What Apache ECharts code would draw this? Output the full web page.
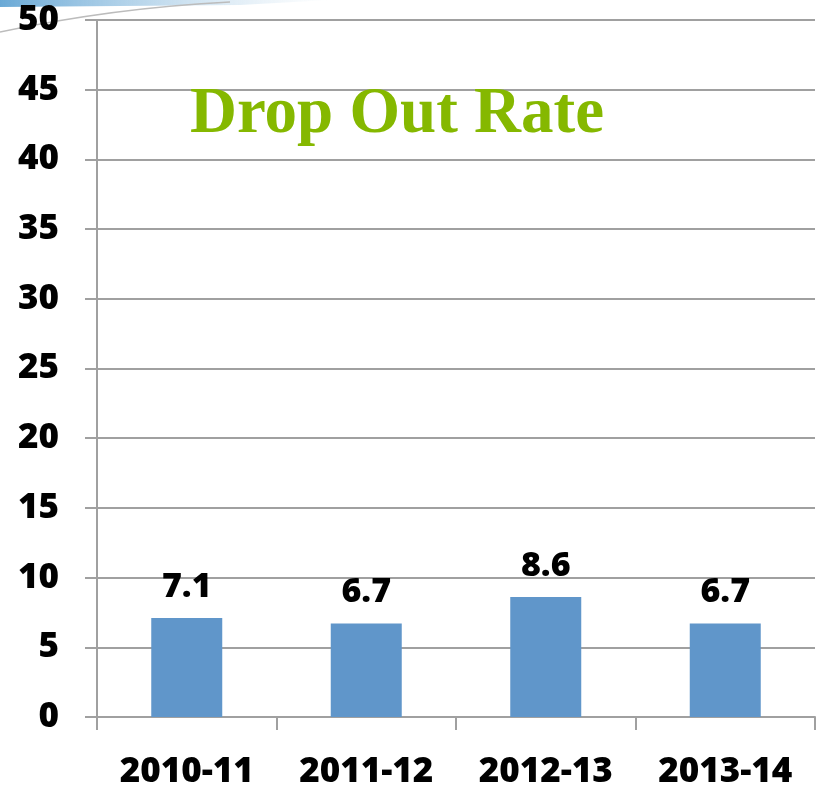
<!DOCTYPE html>
<html>
<head>
<meta charset="utf-8">
<title>Drop Out Rate</title>
<script src="https://cdn.jsdelivr.net/npm/echarts@6/dist/echarts.min.js"></script>
<style>
  html, body { margin: 0; padding: 0; background: #fff; }
  #main { width: 823px; height: 790px; }
</style>
</head>
<body>
<div id="main"></div>
<script>
// data
var years = ["2010-11", "2011-12", "2012-13", "2013-14"];
var dropOut = [7.1, 6.7, 8.6, 6.7];

var chart = echarts.init(document.getElementById("main"));
chart.setOption({
  animation: false,
  title: {
    text: "Drop Out Rate",
    left: 185,
    top: 78,
    textStyle: {
      fontFamily: "Liberation Serif",
      fontWeight: "bold",
      fontSize: 65,
      color: "#85b800"
    }
  },
  // decorative swoosh at the top-left corner
  graphic: [
    {
      type: "polygon",
      shape: { points: [[0, 0], [330, 0], [240, 5], [0, 7]] },
      style: {
        fill: new echarts.graphic.LinearGradient(0, 0, 1, 0, [
          { offset: 0, color: "#6aa9d6" },
          { offset: 1, color: "rgba(170,205,230,0)" }
        ])
      },
      silent: true
    },
    {
      type: "bezierCurve",
      shape: { x1: 0, y1: 32, x2: 230, y2: 2, cpx1: 80, cpy1: 15, cpx2: 150, cpy2: 6 },
      style: { stroke: "#bcbcbc", lineWidth: 1.5, fill: null },
      silent: true
    }
  ],
  grid: {
    left: 97,
    right: 8,
    top: 20,
    bottom: 70,
    containLabel: false
  },
  xAxis: {
    type: "category",
    data: years,
    axisLine: { lineStyle: { color: "#a0a0a0", width: 2 } },
    axisTick: { show: true, length: 13, lineStyle: { color: "#a0a0a0", width: 2 } },
    axisLabel: {
      margin: 38,
      fontFamily: "Open Sans",
      fontWeight: 800,
      fontSize: 35,
      color: "#000"
    }
  },
  yAxis: {
    type: "value",
    min: 0,
    max: 50,
    interval: 5,
    axisLine: { show: true, lineStyle: { color: "#a0a0a0", width: 2 } },
    axisTick: { show: true, length: 12, lineStyle: { color: "#a0a0a0", width: 2 } },
    splitLine: { lineStyle: { color: "#a0a0a0", width: 2 } },
    axisLabel: {
      margin: 38,
      fontFamily: "Open Sans",
      fontWeight: 800,
      fontSize: 35,
      color: "#000"
    }
  },
  series: [
    {
      type: "bar",
      data: dropOut,
      barWidth: 71,
      itemStyle: { color: "#6096ca" },
      label: {
        show: true,
        position: "top",
        distance: 14,
        fontFamily: "Open Sans",
        fontWeight: 800,
        fontSize: 34,
        color: "#000"
      }
    }
  ]
});
</script>
</body>
</html>
